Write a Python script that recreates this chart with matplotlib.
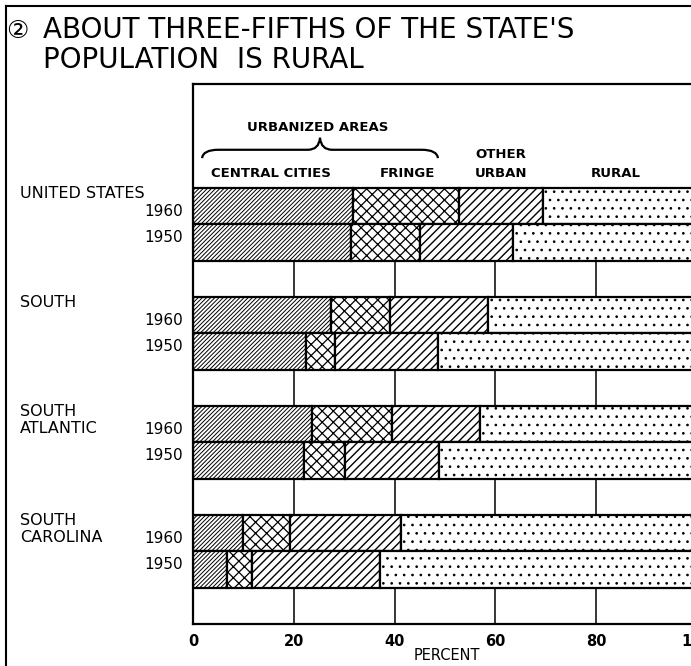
import matplotlib.pyplot as plt
import matplotlib.transforms as mtransforms
from matplotlib.path import Path
from matplotlib.patches import PathPatch
from matplotlib.lines import Line2D

plt.rcParams['font.family'] = ['DejaVu Sans']
plt.rcParams['hatch.linewidth'] = 1.0
plt.rcParams['hatch.color'] = 'black'

# === Datos (porcentaje de la poblacion) ===
grupos = ['UNITED STATES', 'SOUTH', 'SOUTH\nATLANTIC', 'SOUTH\nCAROLINA']
anios = ['1960', '1950']
# orden: US 1960, US 1950, South 1960, South 1950, SA 1960, SA 1950, SC 1960, SC 1950
central_cities = [31.8, 31.4, 27.4, 22.5, 23.6, 22.1, 10.0, 6.8]
fringe = [20.9, 13.7, 11.6, 5.7, 15.8, 8.0, 9.2, 5.0]
other_urban = [16.7, 18.3, 19.6, 20.5, 17.5, 18.8, 22.0, 25.4]
rural = [30.6, 36.6, 41.4, 51.3, 43.1, 51.1, 58.8, 62.8]
ticks_x = [0, 20, 40, 60, 80, 100]

series = [central_cities, fringe, other_urban, rural]
tramas = ['////////', 'xxx', '////', '..']
grosor_trama = [0.7, 0.9, 1.0, 0.7]
encabezados = ['CENTRAL CITIES', 'FRINGE', 'OTHER\nURBAN', 'RURAL']

W, H = 691, 666
fig = plt.figure(figsize=(W / 100, H / 100), dpi=100)
ax = fig.add_axes([193 / W, (H - 624) / H, (697 - 193) / W, (624 - 84) / H])

# posiciones de las barras: dos barras y un hueco por grupo
ypos = []
for g in range(len(grupos)):
    ypos += [3 * g, 3 * g + 1]

izq = [0.0] * len(ypos)
for valores, trama, lw in zip(series, tramas, grosor_trama):
    with plt.rc_context({'hatch.linewidth': lw}):
        barras = ax.barh(ypos, valores, left=izq, height=1, align='edge',
                         facecolor='white', edgecolor='black', linewidth=1.6,
                         hatch=trama)
    for b in barras:
        if hasattr(b, 'set_hatch_linewidth'):
            b.set_hatch_linewidth(lw)
    izq = [a + b for a, b in zip(izq, valores)]

# lineas de referencia solo en los huecos
for g in range(len(grupos)):
    ax.vlines(ticks_x[1:-1], 3 * g + 2, 3 * g + 3, color='black', linewidth=1.1)

ax.set_xlim(0, 100)
ax.set_ylim(12, -2.86)
ax.set_yticks([])
ax.set_xticks(ticks_x)
ax.set_xticklabels([str(t) for t in ticks_x], fontsize=10.5, fontweight='bold')
ax.tick_params(axis='x', length=0, pad=7)
for lado in ['left', 'top', 'bottom']:
    ax.spines[lado].set_linewidth(1.6)
ax.spines['right'].set_visible(False)

# Encabezados de las categorias
centros = [15.5, 42.6, 61.1, 83.9]
for texto, cx in zip(encabezados, centros):
    lineas = texto.split('\n')
    for k, linea in enumerate(reversed(lineas)):
        ax.text(cx, -0.39 - 0.52 * k, linea, ha='center', va='center',
                fontsize=9.5, fontweight='bold')
ax.text(24.8, -1.65, 'URBANIZED AREAS', ha='center', va='center',
        fontsize=9.5, fontweight='bold')

# llave sobre "urbanized areas"
verts = [(1.8, -0.82), (2.0, -1.05), (5.0, -1.05), (22.8, -1.05),
         (25.0, -1.05), (25.2, -1.38), (25.4, -1.05), (27.6, -1.05),
         (45.4, -1.05), (48.4, -1.05), (48.6, -0.82)]
codes = [Path.MOVETO, Path.CURVE3, Path.CURVE3, Path.LINETO,
         Path.CURVE3, Path.CURVE3, Path.CURVE3, Path.CURVE3,
         Path.LINETO, Path.CURVE3, Path.CURVE3]
ax.add_patch(PathPatch(Path(verts, codes), facecolor='none', edgecolor='black',
                       linewidth=1.6, clip_on=False))

# Etiquetas de filas
trans = mtransforms.blended_transform_factory(fig.transFigure, ax.transData)
for g, nombre in enumerate(grupos):
    for k, linea in enumerate(nombre.split('\n')):
        ax.text(20 / W, 3 * g + 0.16 + 0.47 * k, linea, transform=trans,
                ha='left', va='center', fontsize=11.5)
    for anio, off in zip(anios, [0.66, 1.37]):
        ax.text(183 / W, 3 * g + off, anio, transform=trans,
                ha='right', va='center', fontsize=11)

fig.text(447 / W, 1 - 655 / H, 'PERCENT', ha='center', va='center', fontsize=10.5)

# Titulo
fig.text(6 / W, 1 - 38 / H, '\u2461', ha='left', va='baseline', fontsize=18)
fig.text(43 / W, 1 - 38 / H, "ABOUT THREE-FIFTHS OF THE STATE'S",
         ha='left', va='baseline', fontsize=20)
fig.text(43 / W, 1 - 68 / H, 'POPULATION  IS RURAL',
         ha='left', va='baseline', fontsize=20)

# marco exterior
fig.add_artist(Line2D([6 / W, 6 / W], [0, 1 - 6 / H], transform=fig.transFigure,
                      color='black', linewidth=1.5))
fig.add_artist(Line2D([6 / W, 1], [1 - 6 / H, 1 - 6 / H], transform=fig.transFigure,
                      color='black', linewidth=1.5))

fig.savefig('out.png', dpi=100)
